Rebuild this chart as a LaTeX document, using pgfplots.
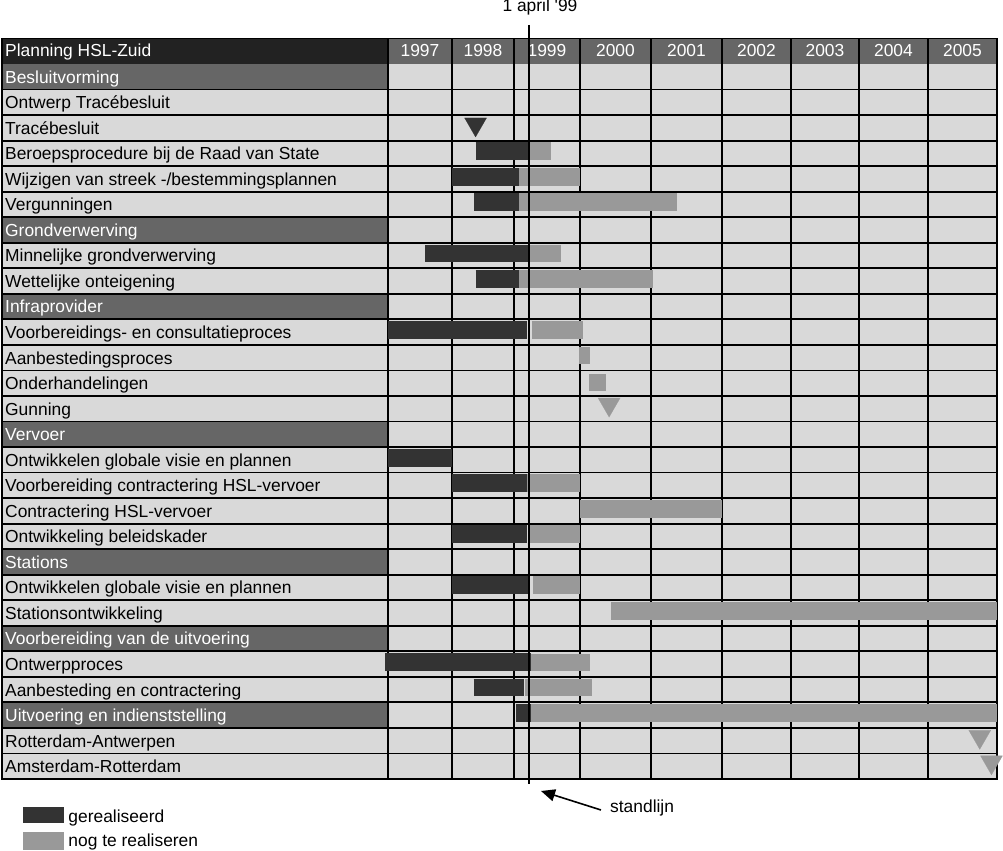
\documentclass[border=0pt]{standalone}
\usepackage{fontspec}
\setmainfont{Liberation Sans}
\usepackage{pgfplots}
\usepackage{pgfplotstable}
\pgfplotsset{compat=1.18}
\usetikzlibrary{arrows.meta}
\definecolor{cellbg}{HTML}{D9D9D9}
\definecolor{catgrey}{HTML}{666666}
\definecolor{hdrdark}{HTML}{222222}
\definecolor{barDark}{HTML}{333333}
\definecolor{barLight}{HTML}{999999}

% realised parts (x = date in years, y = row centre); nan rows separate bars
\pgfplotstableread{
x y
1998.38 4.415
1999.23 4.415
1999.23 nan
1998.00 5.415
1999.08 5.415
1999.08 nan
1998.36 6.415
1999.08 6.415
1999.08 nan
1997.58 8.415
1999.23 8.415
1999.23 nan
1998.38 9.415
1999.08 9.415
1999.08 nan
1997.00 11.415
1999.20 11.415
1999.20 nan
1997.00 16.415
1998.00 16.415
1998.00 nan
1998.00 17.415
1999.20 17.415
1999.20 nan
1998.00 19.415
1999.20 19.415
1999.20 nan
1998.00 21.415
1999.24 21.415
1999.24 nan
1996.95 24.415
1999.25 24.415
1999.25 nan
1998.35 25.415
1999.15 25.415
1999.15 nan
1999.03 26.415
1999.26 26.415
}\darkbars

% parts still to be realised
\pgfplotstableread{
x y
1999.23 4.415
1999.56 4.415
1999.56 nan
1999.08 5.415
2000.00 5.415
2000.00 nan
1999.08 6.415
2001.37 6.415
2001.37 nan
1999.23 8.415
1999.71 8.415
1999.71 nan
1999.08 9.415
2001.03 9.415
2001.03 nan
1999.27 11.415
2000.04 11.415
2000.04 nan
1999.99 12.415
2000.14 12.415
2000.14 nan
2000.13 13.47
2000.37 13.47
2000.37 nan
1999.20 17.415
2000.00 17.415
2000.00 nan
2000.00 18.415
2002.00 18.415
2002.00 nan
1999.24 19.415
2000.00 19.415
2000.00 nan
1999.29 21.415
2000.00 21.415
2000.00 nan
2000.44 22.415
2006.00 22.415
2006.00 nan
1999.25 24.44
2000.14 24.44
2000.14 nan
1999.17 25.415
2000.17 25.415
2000.17 nan
1999.26 26.415
2006.00 26.415
}\lightbars

\begin{document}
\begin{tikzpicture}[font=\fontsize{17.4bp}{20bp}\selectfont]
\def\rh{25.5345}
\begin{scope}[x=1bp, y=-1bp, yshift=851bp]
% table background
\fill[cellbg] (2,38.5) rectangle (997,779);
\fill[hdrdark] (2,38.5) rectangle (388,{38.5+\rh});
\fill[catgrey] (388,38.5) rectangle (997,{38.5+\rh});
\foreach \i in {1,7,10,15,20,23,26}
  \fill[catgrey] (2,{38.5+\rh*\i}) rectangle (388,{38.5+\rh*(\i+1)});
% grid
\foreach \i in {2,...,28}
  \draw[line width=1.8bp] (2,{38.5+\rh*\i}) -- (997,{38.5+\rh*\i});
\foreach \xx in {388,452,514,580,651,722,791,859,928}
  \draw[line width=1.8bp] (\xx,38.5) -- (\xx,779);
\draw[line width=1.8bp] (2,38.5) rectangle (997,779);

% header
\node[anchor=base west, inner sep=0pt, text=white] at (5,{38.5+\rh*0.72}) {Planning HSL-Zuid};
\foreach \c/\yr in {420/1997, 483/1998, 547/1999, 615.5/2000, 686.5/2001, 756.5/2002, 825/2003, 893.5/2004, 962.5/2005}
  \node[anchor=base, inner sep=0pt, text=white] at (\c,{38.5+\rh*0.72}) {\yr};

% category labels
\foreach \i/\lab in {1/Besluitvorming, 7/Grondverwerving, 10/Infraprovider, 15/Vervoer, 20/Stations, 23/Voorbereiding van de uitvoering, 26/Uitvoering en indienststelling}
  \node[anchor=base west, inner sep=0pt, text=white] at (5,{38.5+\rh*(\i+0.75)}) {\lab};

% activity labels
\foreach \i/\lab in {2/Ontwerp Tracébesluit, 3/Tracébesluit, 4/Beroepsprocedure bij de Raad van State, 6/Vergunningen, 8/Minnelijke grondverwerving, 9/Wettelijke onteigening, 11/Voorbereidings- en consultatieproces, 12/Aanbestedingsproces, 13/Onderhandelingen, 14/Gunning, 16/Ontwikkelen globale visie en plannen, 17/Voorbereiding contractering HSL-vervoer, 18/Contractering HSL-vervoer, 19/Ontwikkeling beleidskader, 21/Ontwikkelen globale visie en plannen, 22/Stationsontwikkeling, 24/Ontwerpproces, 25/Aanbesteding en contractering, 27/Rotterdam-Antwerpen, 28/Amsterdam-Rotterdam}
  \node[anchor=base west, inner sep=0pt] at (5,{38.5+\rh*(\i+0.75)}) {\lab};
\node[anchor=base west, inner sep=0pt] at (5,{38.5+\rh*5.75}) {Wijzigen van streek -/bestemmingsplannen};
\end{scope}

\begin{axis}[
  at={(499.5bp,442.25bp)}, anchor=center,
  scale only axis, width=995bp, height=740.5bp,
  hide axis, clip=false,
  xmin=1990.96875, xmax=2006,
  ymin=0, ymax=29, y dir=reverse,
  x coord trafo/.code={\pgfmathparse{388+64*(#1-1997)-2*max(0,#1-1998)+4*max(0,#1-1999)+5*max(0,#1-2000)-2*max(0,#1-2002)-max(0,#1-2003)+max(0,#1-2004)}},
  unbounded coords=jump,
]
\addplot[barLight, line width=17.7bp, mark=none] table[x=x, y=y] {\lightbars};
\addplot[barDark, line width=17.7bp, mark=none] table[x=x, y=y] {\darkbars};
\addplot[only marks, mark=triangle*, mark size=12.7bp,
  mark options={rotate=180, fill=barDark, draw=barDark, line width=0.2bp}]
  coordinates {(1998.38,3.36)};
\addplot[only marks, mark=triangle*, mark size=12.7bp,
  mark options={rotate=180, fill=barLight, draw=barLight, line width=0.2bp}]
  coordinates {(2000.41,14.33) (2005.75,27.34) (2005.92,28.34)};
% standlijn (1 april 1999)
\addplot[black, line width=2.4bp, mark=none] coordinates {(1999.23,-0.53) (1999.23,29.2)};
\end{axis}

\begin{scope}[x=1bp, y=-1bp, yshift=851bp]
\node[anchor=base, inner sep=0pt] at (540,12) {1 april \textquotesingle 99};
\draw[line width=1.6bp, -{Triangle[length=14bp,width=12bp]}] (601,810) -- (541,791);
\node[anchor=base west, inner sep=0pt] at (610,813) {standlijn};
% legend
\fill[barDark] (22.7,806.7) rectangle (64.3,823.3);
\node[anchor=base west, inner sep=0pt] at (68.3,822.7) {gerealiseerd};
\fill[barLight] (22.7,831.7) rectangle (64.3,850);
\node[anchor=base west, inner sep=0pt] at (68.3,846.5) {nog te realiseren};
\end{scope}

\pgfresetboundingbox
\useasboundingbox (0,0) rectangle (1003bp,851bp);
\end{tikzpicture}
\end{document}
